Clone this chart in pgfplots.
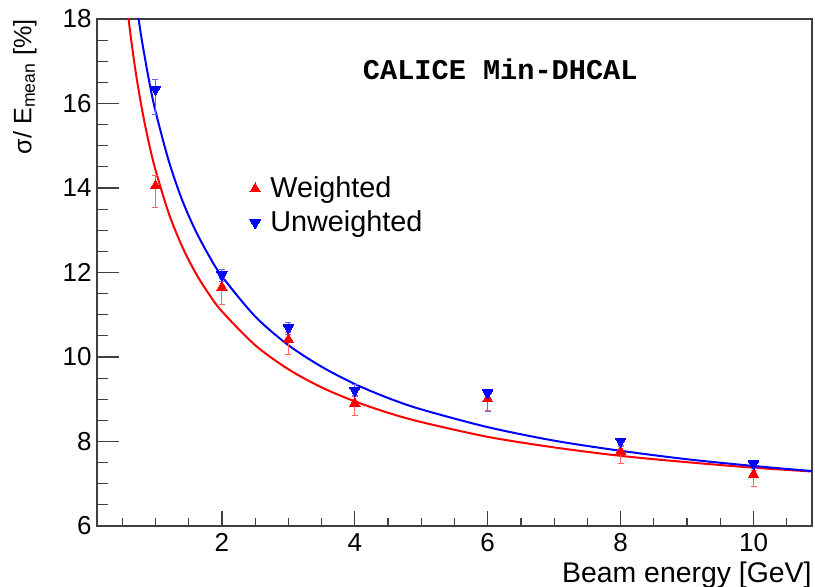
\documentclass[border=0pt]{standalone}
\usepackage{fontspec}
\setmainfont{Liberation Sans}
\newfontfamily\monob{Liberation Mono}
\usepackage{pgfplots}
\pgfplotsset{compat=1.18}
\begin{document}
\begin{tikzpicture}
\useasboundingbox (-48.5pt,-30.5pt) rectangle (359pt,263pt);
\begin{axis}[
  at={(0,0)}, anchor=south west,
  scale only axis, width=357.5pt, height=253.5pt,
  xmin=0.12, xmax=10.88, ymin=6, ymax=18,
  xtick={2,4,...,10}, ytick={6,8,...,18},
  minor xtick={0.5,1,...,10.5}, minor ytick={6.5,7,...,17.5},
  tick align=inside, xtick pos=bottom, ytick pos=left,
  major tick length=11pt, minor tick length=5.5pt,
  xtick style={/pgfplots/major tick length=7.5pt,/pgfplots/minor tick length=3.75pt},
  axis line style={black!75, line width=0.6pt},
  every tick/.style={black!75, line width=0.6pt},
  /pgf/number format/assume math mode=true,
  ticklabel style={font=\fontsize{13}{15}\selectfont},
  yticklabel style={inner sep=0pt, xshift=-2.5pt},
  xticklabel style={inner sep=0pt, yshift=-3.5pt},
  xlabel={Beam energy [GeV]},
  xlabel style={at={(rel axis cs:1,0)}, anchor=north east, inner sep=0pt, yshift=-18pt, font=\fontsize{14.2}{16}\selectfont},
  ylabel={σ/ E\textsubscript{mean} [\%]},
  ylabel style={at={(rel axis cs:-0.084,1)}, anchor=south east, inner sep=0pt, font=\fontsize{12.6}{14}\selectfont},
  legend style={draw=none, fill=none, at={(rel axis cs:0.205,0.705)}, anchor=north west,
    font=\fontsize{14.4}{16}\selectfont, row sep=1pt, nodes={inner xsep=5pt}},
  legend cell align=left,
]
% fitted curves
\addplot[red, line width=1pt, smooth, no markers, forget plot] coordinates {
(0.5,19.46) (0.6,17.94) (0.7,16.77) (0.8,15.84) (0.9,15.07) (1.0,14.43)
(1.2,13.40) (1.4,12.62) (1.6,12.00) (1.8,11.50) (2.0,11.08) (2.5,10.28)
(3.0,9.71) (3.5,9.28) (4.0,8.95) (4.5,8.68) (5.0,8.46) (6.0,8.11)
(7.0,7.86) (8.0,7.66) (9.0,7.51) (10.0,7.38) (10.88,7.29)};
\addplot[blue, line width=1pt, smooth, no markers, forget plot] coordinates {
(0.6,19.87) (0.7,18.53) (0.75,17.96) (0.8,17.45) (0.9,16.57) (1.0,15.82)
(1.2,14.64) (1.4,13.72) (1.6,13.00) (1.8,12.41) (2.0,11.91) (2.5,10.96)
(3.0,10.28) (3.5,9.77) (4.0,9.36) (4.5,9.03) (5.0,8.76) (6.0,8.34)
(7.0,8.02) (8.0,7.78) (9.0,7.58) (10.0,7.42) (10.88,7.30)};
% data
\addplot[only marks, mark=triangle*, mark size=3pt, mark options={fill=red, draw=red, line width=0pt},
  error bars/.cd, y dir=both, y explicit,
  error bar style={red!60, line width=0.5pt},
  error mark options={rotate=90, mark size=1.5pt, red!60, line width=0.5pt}]
coordinates {
(1,14.05) += (0,0.25) -= (0,0.50)
(2,11.65) += (0,0.20) -= (0,0.41)
(3,10.41) += (0,0.16) -= (0,0.35)
(4,8.91) += (0,0.15) -= (0,0.30)
(6,9.01) += (0,0.12) -= (0,0.28)
(8,7.77) += (0,0.10) -= (0,0.30)
(10,7.22) += (0,0.10) -= (0,0.28)};
\addlegendentry{Weighted}
\addplot[only marks, mark=triangle*, mark size=3pt, mark options={rotate=180, fill=blue, draw=blue, line width=0pt},
  error bars/.cd, y dir=both, y explicit,
  error bar style={blue!60, line width=0.5pt},
  error mark options={rotate=90, mark size=1.5pt, blue!60, line width=0.5pt}]
coordinates {
(1,16.34) += (0,0.23) -= (0,0.61)
(2,11.95) += (0,0.12) -= (0,0.16)
(3,10.69) += (0,0.13) -= (0,0.15)
(4,9.21) += (0,0.14) -= (0,0.12)
(6,9.15) += (0,0.06) -= (0,0.45)
(8,8.01) += (0,0.06) -= (0,0.10)
(10,7.47) += (0,0.05) -= (0,0.10)};
\addlegendentry{Unweighted}
\node[font=\monob\bfseries\fontsize{14.3}{16}\selectfont] at (rel axis cs:0.564,0.9) {CALICE Min-DHCAL};
\end{axis}
\end{tikzpicture}
\end{document}
